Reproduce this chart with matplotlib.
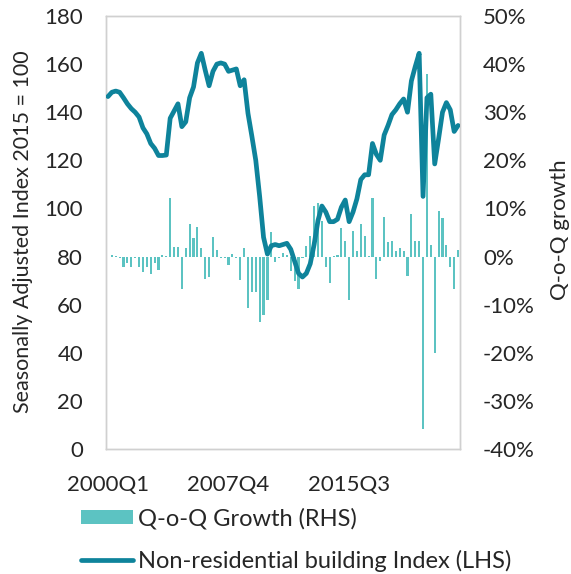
import matplotlib
matplotlib.use("Agg")
import matplotlib.pyplot as plt
from matplotlib.patches import Patch
from matplotlib.lines import Line2D
from matplotlib.ticker import FuncFormatter

plt.rcParams['font.family'] = ['Lato', 'DejaVu Sans']

quarters = [f"{y}Q{q}" for y in range(2000, 2023) for q in range(1, 5)][:91]

index_values = [
    146.5, 148.3, 148.8, 148.3, 146.0, 143.5, 141.5, 140.0, 138.0, 133.5,
    131.0, 127.0, 125.0, 122.0, 122.0, 122.2, 137.5, 140.5, 143.5, 134.0,
    136.0, 146.0, 150.5, 160.5, 164.5, 157.5, 151.0, 157.0, 160.0, 160.5,
    160.0, 157.0, 157.5, 158.0, 151.0, 153.5, 139.5, 130.0, 120.0, 105.0,
    88.0, 81.0, 84.5, 85.0, 84.5, 85.0, 85.5, 83.0, 78.0, 73.0,
    71.5, 73.0, 77.0, 85.0, 95.0, 101.0, 98.5, 94.5, 94.5, 95.5,
    100.5, 103.5, 94.5, 98.5, 104.0, 112.0, 114.0, 114.0, 127.0, 122.5,
    120.0, 130.5, 134.5, 139.0, 141.0, 143.5, 145.5, 140.0, 153.0, 159.0,
    164.5, 105.0, 146.0, 147.5, 118.5, 129.0, 140.0, 144.0, 141.0, 132.0,
    134.5,
]

growth_pct = [
    None, 0.35, 0.1, -0.35, -2.1, -1.4, -2.2, -0.3, -2.2, -3.3,
    -2.2, -3.6, -1.4, -2.8, 0.3, 0.1, 12.1, 1.9, 1.9, -6.7,
    1.7, 6.8, 3.8, 6.2, 1.7, -4.6, -4.2, 4.0, 1.4, -0.2,
    -0.2, -1.7, 0.6, -0.3, -4.9, 1.7, -10.7, -7.3, -7.3, -13.7,
    -12.1, -9.1, 5.1, -1.2, -0.3, 0.8, 0.3, -3.1, -5.0, -6.8,
    -0.3, 2.1, 4.2, 10.5, 11.2, 7.3, -2.2, -5.4, 0.1, 0.3,
    5.9, 3.3, -9.1, 5.4, 1.2, 6.7, 4.3, 0.1, 12.1, -4.7,
    -1.0, 8.3, 3.0, 3.3, 1.2, 1.7, 1.2, -4.0, 8.9, 3.3,
    3.3, -35.9, 37.9, 2.4, -20.1, 9.4, 8.0, 2.4, -2.2, -6.7,
    1.4,
]

line_color = "#0E839B"
bar_color = "#5CC3C2"
text_color = "#262626"
spine_color = "#D0D0D0"
W, H = 571, 574

fig = plt.figure(figsize=(W / 100, H / 100), dpi=100)
ax = fig.add_axes([106/W, 1 - 449/H, (460-106)/W, (449-16)/H])
ax2 = ax.twinx()

n = len(quarters)
x = list(range(n))
bx = [i for i in x if growth_pct[i] is not None]
bv = [growth_pct[i] / 100 for i in bx]
ax2.bar(bx, bv, width=0.55, color=bar_color, zorder=1)

ax.set_zorder(ax2.get_zorder() + 1)
ax.patch.set_visible(False)
ax.plot(x, index_values, color=line_color, lw=3.4, solid_capstyle='round',
        solid_joinstyle='round', zorder=3)

ax.set_xlim(-0.5, n - 0.5)
ax.set_ylim(0, 180)
ax.set_yticks(range(0, 181, 20))
ax2.set_ylim(-0.40, 0.50)
ax2.set_yticks([v / 100 for v in range(-40, 51, 10)])
ax2.yaxis.set_major_formatter(FuncFormatter(lambda v, p: f"{v*100:.0f}%"))

ax.set_xticks([0, 31, 62])
ax.set_xticklabels([quarters[0], quarters[31], quarters[62]])

for a in (ax, ax2):
    a.tick_params(length=0, labelsize=16, colors=text_color)
    for s in a.spines.values():
        s.set_color(spine_color)
        s.set_linewidth(1.0)
ax.tick_params(axis='y', pad=16.5)
ax2.tick_params(axis='y', pad=16.5)
ax.tick_params(axis='x', pad=19)

fig.text(23/W, 1 - 232/H, "Seasonally Adjusted Index 2015 = 100", fontsize=15.5,
         color=text_color, rotation=90, ha='center', va='center')
fig.text(560/W, 1 - 230/H, "Q-o-Q growth", fontsize=16, color=text_color,
         rotation=90, ha='center', va='center')

handles = [Patch(facecolor=bar_color, edgecolor='none'),
           Line2D([0], [0], color=line_color, lw=3.4, solid_capstyle='round')]
labels = ["Q-o-Q Growth (RHS)", "Non-residential building Index (LHS)"]
fig.legend(handles, labels, loc='upper left', bbox_to_anchor=(81/W, 1 - 508/H),
           frameon=False, fontsize=17, handlelength=2.2, handleheight=0.5,
           handletextpad=0.2, labelspacing=0.85, borderaxespad=0,
           borderpad=0, labelcolor=text_color)

fig.savefig("out.png", dpi=100)
